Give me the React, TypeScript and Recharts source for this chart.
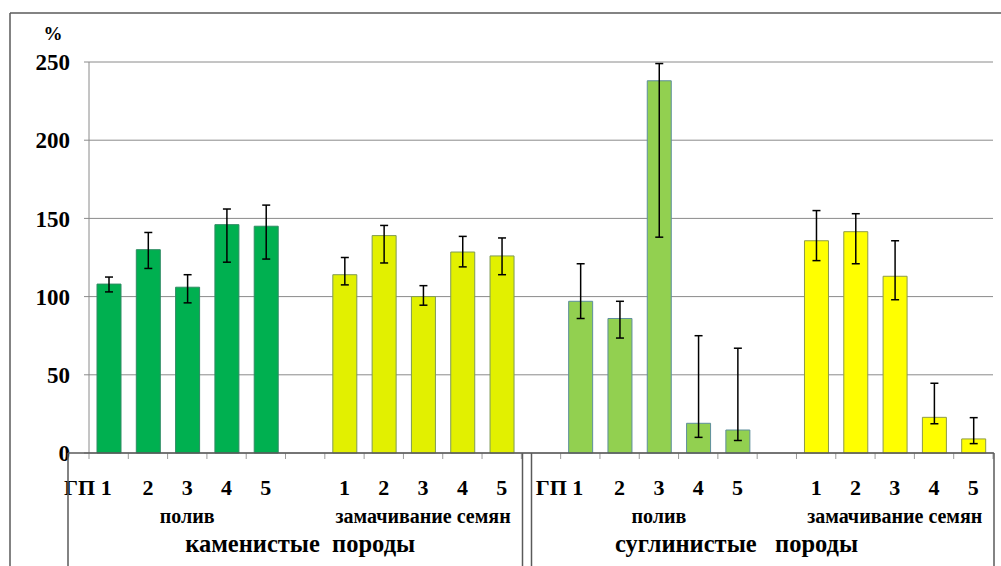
import React from "react";
import { Bar, BarChart, CartesianGrid, Cell, ErrorBar, XAxis, YAxis } from "recharts";

const FONT = "'Liberation Serif', 'DejaVu Serif', serif";

// chart box (page is 1001x566)
const W = 1001;
const H = 566;
const PLOT_LEFT = 89;
const PLOT_RIGHT = 993;
const PLOT_TOP = 62;
const AXIS_Y = 453;

// category labels
const wateringLabels = ["ГП 1", "2", "3", "4", "5"];
const soakingLabels = ["1", "2", "3", "4", "5"];
const groupLabels = ["полив", "замачивание семян", "полив", "замачивание семян"];
const sectionLabels = ["каменистые  породы", "суглинистые   породы"];
const yTicks = [0, 50, 100, 150, 200, 250];

// каменистые породы, полив
const stonyWaterValues = [108, 130, 106, 146, 145];
const stonyWaterLower = [103, 118, 96, 122, 124];
const stonyWaterUpper = [112.5, 141, 114, 156, 158.5];

// каменистые породы, замачивание семян
const stonySoakValues = [114, 139, 100, 128.5, 126];
const stonySoakLower = [107.5, 121.5, 94.5, 119, 114];
const stonySoakUpper = [125, 145.5, 107, 138.5, 137.5];

// суглинистые породы, полив
const loamWaterValues = [97, 86, 238, 19, 14.7];
const loamWaterLower = [86, 73.5, 138, 10, 8];
const loamWaterUpper = [121, 97, 249, 75, 67];

// суглинистые породы, замачивание семян
const loamSoakValues = [135.7, 141.5, 113, 22.8, 9];
const loamSoakLower = [123, 121, 98, 18.7, 6];
const loamSoakUpper = [155, 153, 135.7, 44.6, 22.6];

type Row = {
  label: string;
  value: number | null;
  err?: [number, number];
  fill?: string;
  stroke?: string;
};

const makeGroup = (
  labels: string[],
  values: number[],
  lower: number[],
  upper: number[],
  fill: string,
  stroke: string
): Row[] =>
  labels.map((label, i) => ({
    label,
    value: values[i],
    err: [values[i] - lower[i], upper[i] - values[i]],
    fill,
    stroke,
  }));

const gap = (): Row => ({ label: "", value: null });

const rows: Row[] = [
  ...makeGroup(wateringLabels, stonyWaterValues, stonyWaterLower, stonyWaterUpper, "#00B050", "#2E8B63"),
  gap(),
  ...makeGroup(soakingLabels, stonySoakValues, stonySoakLower, stonySoakUpper, "#E2F000", "#7F9A55"),
  gap(),
  ...makeGroup(wateringLabels, loamWaterValues, loamWaterLower, loamWaterUpper, "#92D050", "#5E8E9C"),
  gap(),
  ...makeGroup(soakingLabels, loamSoakValues, loamSoakLower, loamSoakUpper, "#FFFF00", "#8E9A4A"),
];

const SLOT = (PLOT_RIGHT - PLOT_LEFT) / rows.length;

// where the 2nd and 3rd label rows sit (slot index + small nudge)
const groupAt: Record<number, string> = { 2: groupLabels[0], 8: groupLabels[1], 14: groupLabels[2], 20: groupLabels[3] };
const sectionAt: Record<number, [string, number]> = { 5: [sectionLabels[0], -5], 16: [sectionLabels[1], -1] };

const txtStyle = (size: number): React.CSSProperties => ({
  fontFamily: FONT,
  fontWeight: "bold",
  fontSize: size,
  whiteSpace: "pre",
});

const CategoryTick = (props: any) => {
  const { x, y, payload } = props;
  const i: number = payload.index;
  const label: string = payload.value;
  const half = SLOT / 2;
  return (
    <g>
      <line x1={x - half} y1={y} x2={x - half} y2={y + 6} stroke="#9a9a9a" />
      {i === rows.length - 1 && <line x1={x + half} y1={y} x2={x + half} y2={y + 6} stroke="#9a9a9a" />}
      {label !== "" && (
        <text
          x={label.length > 1 ? x + 3 : x}
          y={y + 42}
          textAnchor={label.length > 1 ? "end" : "middle"}
          fill="#000"
          style={txtStyle(22)}
        >
          {label}
        </text>
      )}
      {groupAt[i] && (
        <text x={x} y={y + 70} textAnchor="middle" fill="#000" style={txtStyle(20)}>
          {groupAt[i]}
        </text>
      )}
      {sectionAt[i] && (
        <text x={x + sectionAt[i][1]} y={y + 99} textAnchor="middle" fill="#000" style={txtStyle(24.5)}>
          {sectionAt[i][0]}
        </text>
      )}
    </g>
  );
};

export default function App() {
  const dark = "#5a5a5a";
  return (
    <div style={{ position: "absolute", left: 0, top: 0, width: W, height: H, background: "#fff", fontFamily: FONT }}>
      <BarChart
        width={W}
        height={H}
        data={rows}
        margin={{ top: PLOT_TOP, right: W - PLOT_RIGHT, bottom: 0, left: 0 }}
        barSize={24}
      >
        <CartesianGrid vertical={false} stroke="#8a8a8a" />
        <XAxis
          dataKey="label"
          height={H - AXIS_Y}
          interval={0}
          axisLine={false}
          tickLine={false}
          tickSize={0}
          tickMargin={0}
          tick={<CategoryTick />}
        />
        <YAxis
          width={PLOT_LEFT}
          domain={[0, 250]}
          ticks={yTicks}
          interval={0}
          stroke="#8a8a8a"
          tickSize={5}
          tickMargin={14}
          tick={{ fill: "#000", style: txtStyle(23) }}
        />
        <Bar dataKey="value" isAnimationActive={false}>
          {rows.map((r, i) => (
            <Cell key={i} fill={r.fill} stroke={r.stroke} strokeWidth={1} />
          ))}
          <ErrorBar dataKey="err" width={4} stroke="#000" strokeWidth={1.5} direction="y" />
        </Bar>
      </BarChart>
      <svg
        width={W}
        height={H}
        style={{ position: "absolute", left: 0, top: 0, pointerEvents: "none" }}
      >
        <line x1={10} y1={13} x2={W} y2={13} stroke={dark} strokeWidth={1.5} />
        <line x1={10} y1={13} x2={10} y2={H} stroke={dark} strokeWidth={1.5} />
        <line x1={68} y1={AXIS_Y} x2={994} y2={AXIS_Y} stroke={dark} strokeWidth={1.5} />
        <line x1={68} y1={AXIS_Y} x2={68} y2={H} stroke={dark} strokeWidth={1.5} />
        <line x1={522.5} y1={AXIS_Y} x2={522.5} y2={H} stroke={dark} strokeWidth={1.5} />
        <line x1={531.5} y1={AXIS_Y} x2={531.5} y2={H} stroke={dark} strokeWidth={1.5} />
        <line x1={994} y1={AXIS_Y} x2={994} y2={H} stroke={dark} strokeWidth={1.5} />
        <text x={53} y={40} textAnchor="middle" fill="#000" style={txtStyle(19)}>
          %
        </text>
      </svg>
    </div>
  );
}
